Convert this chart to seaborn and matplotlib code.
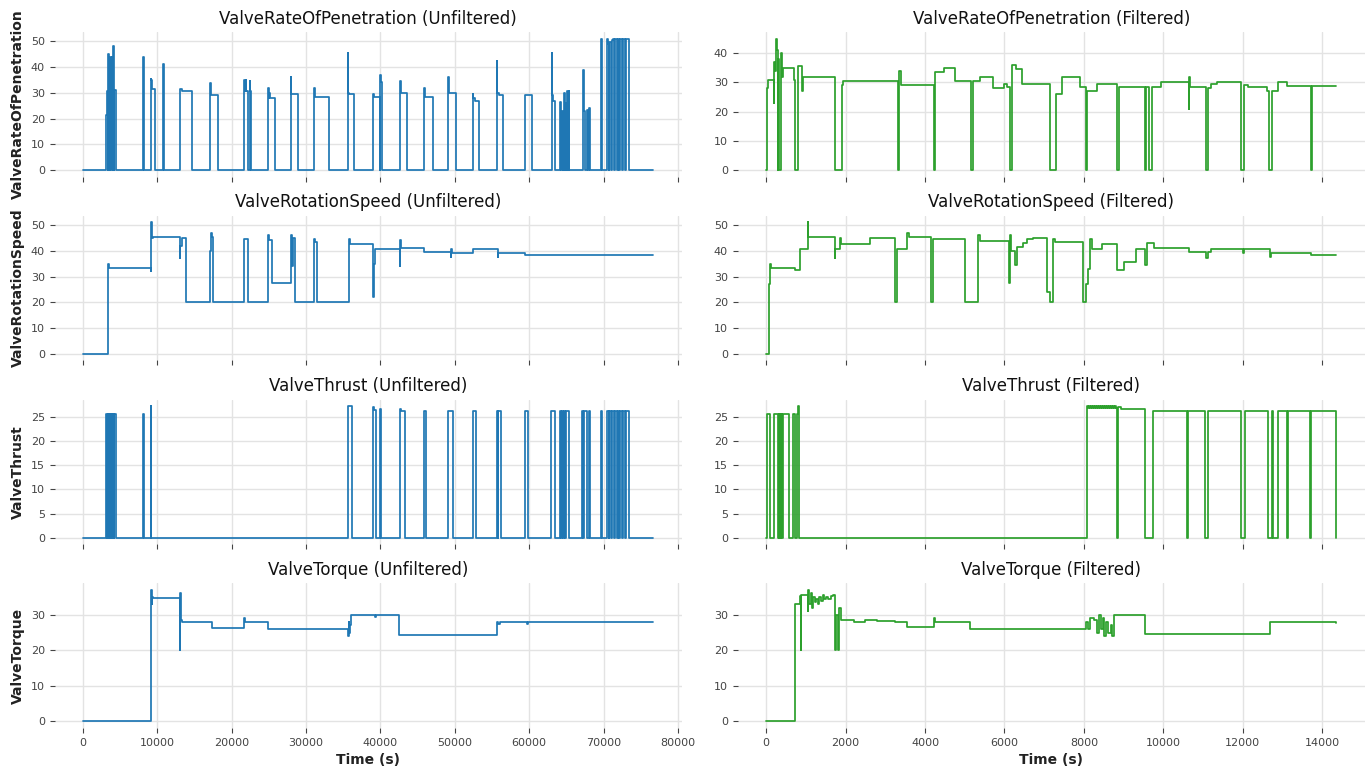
import numpy as np
import pandas as pd
import matplotlib
matplotlib.use("Agg")
import matplotlib.pyplot as plt
from matplotlib.ticker import MultipleLocator
import seaborn as sns

# ---------------- data (time in s, value) ----------------
# Unfiltered (left column)
rop_unf_t = [0, 3070, 3190, 3300, 3370, 3430, 3490, 3550, 3610, 3660, 3720, 3790, 3850, 3910, 3970, 4020, 4100, 4160, 4220, 4400,
             8080, 8140, 8200, 8260, 9090, 9150, 9200, 9260, 9740, 10740, 10860,
             13100, 13250, 14630, 17110, 17200, 18170,
             21590, 21650, 21750, 21850, 21950, 22180, 22420, 22480, 22600,
             24840, 24950, 25070, 25200, 25780, 27910, 28000, 28910, 31090, 31200, 33040,
             35580, 35640, 35700, 35800, 36460, 39060, 39150, 39880, 40000, 40060, 40150,
             42600, 42700, 43600, 45900, 46000, 47080, 49090, 49200, 50150,
             52390, 52500, 52750, 53220, 55640, 55720, 55900, 56520, 59470, 60420,
             63010, 63080, 63250, 63480, 64190, 64290, 64400, 64500, 64560, 64640, 64720, 64820, 64900, 64960, 65070, 65200, 65300, 65370,
             67260, 67320, 67400, 67500, 67730, 67850, 68090, 68200,
             69620, 69850, 70430, 70600, 70700, 70760, 71050, 71110, 71300, 71450, 71510, 71850, 71910, 72150,
             72200, 72550, 72610, 72850, 73000, 73400, 76700]
rop_unf_v = [0, 21.5, 30.5, 0, 45, 0, 35, 40, 0, 44, 31, 0, 44, 30, 0, 48, 31, 0, 31, 0,
             44, 0, 25, 0, 35.3, 27, 35, 31.5, 0, 41, 0,
             31.3, 30.5, 0, 33.8, 29.2, 0,
             33, 35, 30.5, 35, 30.5, 0, 34.5, 30.5, 0,
             31.8, 28, 30, 28, 0, 36, 29.5, 0, 32, 28.5, 0,
             45.5, 44, 30, 29.5, 0, 29.5, 28.3, 0, 37, 34, 0,
             34.5, 30, 0, 32, 28.3, 0, 36, 30, 0,
             29.7, 28, 27, 0, 42.5, 30, 29, 0, 29, 0,
             45.5, 29, 27, 0, 26.5, 0, 23, 0, 22, 0, 30, 0, 26, 0, 30.5, 0, 30.5, 0,
             39, 34, 23, 0, 23.5, 0, 24, 0,
             51, 0, 51, 49, 0, 49.5, 0, 50.5, 51, 0, 51, 0, 51, 0,
             51, 0, 51, 0, 51, 0, 0]

rs_unf_t = [0, 3420, 3500, 9090, 9150, 9250, 9440, 12980, 13100, 13300, 13860, 17110, 17200, 17400, 17520,
            21650, 22180, 24900, 25000, 25370, 28020, 28150, 28250, 28500, 31090, 31200, 31500,
            35810, 35900, 39060, 39150, 39250, 42600, 42650, 42750, 45900, 49440, 49500, 49600,
            52390, 55750, 55850, 59470, 76700]
rs_unf_v = [0, 35, 33.5, 32, 51, 45, 45.5, 37, 42, 45, 20, 40, 47, 45.5, 20,
            44.5, 20, 46, 44, 27.5, 46, 34, 45, 20, 44.5, 43.5, 20,
            44.5, 42.5, 22, 35, 40.5, 34, 44, 41, 39.5, 37.5, 40.5, 39,
            40.5, 37.5, 39, 38.5, 38.5]

th_unf_t = [0, 3130, 3250, 3300, 3420, 3480, 3600, 3660, 3780, 3840, 3950, 4000, 4150, 4200, 4480,
            8080, 8260, 9090, 9200, 35690, 36170, 39000, 39100, 39410, 39880, 40120,
            42600, 42700, 43240, 45900, 46140, 49090, 49730, 52390, 52800,
            55630, 55800, 55870, 56220, 59470, 59880, 63000, 63480,
            64190, 64350, 64420, 64600, 64680, 64850, 64920, 65310,
            67140, 67300, 67380, 67730, 68000, 68150,
            69620, 69850, 70430, 70700, 70760, 71050, 71110, 71450, 71510, 71850, 71910, 72150,
            72200, 72550, 72610, 72850, 73000, 73400, 76700]
th_unf_v = [0, 25.6, 0, 25.6, 0, 25.6, 0, 25.6, 0, 25.6, 0, 25.6, 0, 25.6, 0,
            25.6, 0, 27.2, 0, 27.2, 0, 27, 26.5, 0, 26.7, 0,
            26.7, 26.2, 0, 26.2, 0, 26.2, 0, 26.2, 0,
            26.2, 0, 26.2, 0, 26.2, 0, 26.2, 0,
            26.2, 0, 26.2, 0, 26.2, 0, 26.2, 0,
            26.2, 0, 26.2, 0, 26.2, 0,
            26.2, 0, 26.2, 0, 26.2, 0, 26.2, 0, 26.2, 0, 26.2, 0,
            26.2, 0, 26.2, 0, 26.2, 0, 0]

tq_unf_t = [0, 9090, 9120, 9180, 9230, 9300, 9400, 12980, 13050, 13150, 13300, 17290, 21650, 21750, 24900,
            35690, 35750, 35800, 35900, 36000, 39300, 39450, 42540, 55630, 55800, 56100, 59700, 59850, 76700]
tq_unf_v = [0, 20, 31, 37, 33, 35, 34.8, 20, 36, 28.5, 28, 26.3, 29, 28, 26,
            24, 28, 25, 27, 30, 29.5, 30, 24.4, 28, 27.5, 28, 27.5, 28, 28]

# Filtered (right column)
rop_fil_t = [0, 22, 44, 188, 199, 220, 243, 265, 287, 300, 331, 375, 386, 430, 695, 717, 794, 904, 927,
             1721, 1908, 1930, 3320, 3342, 3386, 4224, 4247, 4467, 4754, 5162, 5217, 5383, 5703, 5978,
             6067, 6144, 6199, 6287, 6453, 7147, 7302, 7445, 7909, 8052, 8085, 8328, 8846, 8879,
             9541, 9563, 9629, 9706, 9949, 10644, 10660, 10677, 11085, 11118, 11195, 11361, 11968,
             12034, 12144, 12607, 12662, 12740, 12883, 13104, 13710, 13743, 14361]
rop_fil_v = [0, 28, 30.8, 23, 37, 34, 45, 41, 0, 38, 0, 40, 32, 35, 31, 0, 35.5, 27, 31.7,
             0, 29, 30.4, 0, 33.8, 29.2, 0, 33.5, 35, 30.5, 0, 30.5, 31.8, 28, 29.5,
             28.3, 0, 36, 34.5, 29.5, 0, 26, 31.8, 28.5, 0, 27, 29.5, 0, 28.3,
             0, 28.3, 0, 28.3, 30.2, 21, 32, 28.3, 0, 28, 29.5, 30.2, 0,
             29, 28.3, 27, 0, 27.2, 30, 28.8, 0, 28.8, 28.8]

rs_fil_t = [0, 66, 88, 110, 717, 849, 1048, 1059, 1721, 1743, 1864, 1886, 2614, 3254, 3298, 3552, 3585,
            4158, 4213, 4997, 5327, 5383, 6122, 6144, 6166, 6265, 6320, 6475, 6563, 6728, 7070, 7147,
            7214, 7280, 7975, 8063, 8107, 8162, 8217, 8460, 8846, 9011, 9320, 9541, 9585, 9762,
            10644, 11085, 11118, 11195, 12001, 12023, 12685, 12707, 13710, 14361]
rs_fil_v = [0, 27, 35, 33.5, 32.5, 40.5, 51, 45.5, 37, 40.5, 45, 42.5, 45, 20, 40.5, 47, 45.5,
            20, 44.5, 20, 46, 43.8, 27.5, 46, 40, 34.5, 41.5, 43, 44.5, 45, 24, 20,
            44.5, 43.5, 20, 27, 33, 44.5, 40.5, 42.5, 32.5, 35.5, 40.5, 34.5, 43, 41,
            39.5, 37, 39.5, 40.5, 39, 40.5, 37.5, 39, 38.5, 38.5]

th_fil_t = [0, 22, 100, 188, 300, 320, 335, 350, 365, 385, 400, 420, 574, 684, 728, 783, 805, 838,
            8085, 8110, 8135, 8160, 8185, 8210, 8235, 8260, 8285, 8310, 8335, 8360, 8385, 8410, 8435, 8460,
            8485, 8510, 8535, 8560, 8585, 8610, 8635, 8660, 8685, 8710, 8735, 8760, 8785, 8810, 8846, 8870, 8930,
            9541, 9730, 10600, 10630, 11060, 11130, 11950, 12050, 12650, 12740, 12760, 12880, 13110, 13140,
            13700, 13730, 14361]
th_fil_v = [0, 25.6, 0, 25.6, 0, 25.6, 0, 25.6, 0, 25.6, 0, 25.6, 0, 25.6, 0, 25.6, 27.2, 0,
            27.2, 26.9, 27.2, 26.9, 27.2, 26.9, 27.2, 26.9, 27.2, 26.9, 27.2, 26.9, 27.2, 26.9, 27.2, 26.9,
            27.2, 26.9, 27.2, 26.9, 27.2, 26.9, 27.2, 26.9, 27.2, 26.9, 27.2, 26.9, 27.2, 26.9, 0, 27.0, 26.6,
            0, 26.2, 0, 26.2, 0, 26.2, 0, 26.2, 0, 26.2, 0, 26.2, 0, 26.2,
            0, 26.2, 0]

tq_fil_t = [0, 717, 849, 871, 882, 1048, 1060, 1090, 1120, 1150, 1180, 1220, 1260, 1300, 1340, 1380, 1420,
            1460, 1500, 1560, 1620, 1680, 1732, 1765, 1800, 1842, 1875, 2200, 2500, 2800, 3250, 3552,
            4224, 4247, 5140, 8052, 8100, 8150, 8250, 8330, 8380, 8420, 8470, 8520, 8560, 8620, 8680,
            8720, 8769, 9541, 12685, 14361]
tq_fil_v = [0, 33, 35.3, 20, 35.5, 31, 37, 33, 36, 32, 35, 33.5, 34.5, 33, 35, 34, 35.5,
            34.5, 35, 34.5, 35.3, 35.5, 20, 30, 20, 32, 28.5, 28, 28.5, 28.2, 28, 26.5,
            29, 28, 26, 28, 26, 29, 28.5, 25, 30, 26, 29, 24, 28, 25, 27,
            24, 30, 24.5, 28, 27.8]

variables = ["ValveRateOfPenetration", "ValveRotationSpeed", "ValveThrust", "ValveTorque"]
unfiltered = [(rop_unf_t, rop_unf_v), (rs_unf_t, rs_unf_v), (th_unf_t, th_unf_v), (tq_unf_t, tq_unf_v)]
filtered = [(rop_fil_t, rop_fil_v), (rs_fil_t, rs_fil_v), (th_fil_t, th_fil_v), (tq_fil_t, tq_fil_v)]

# ---------------- style ----------------
sns.set_theme(style="whitegrid", rc={
    "grid.color": "#e3e3e3",
    "grid.linewidth": 1.0,
    "xtick.bottom": True,
    "ytick.left": True,
    "xtick.color": "#444444",
    "ytick.color": "#444444",
    "xtick.major.size": 3.5,
    "ytick.major.size": 3.5,
    "xtick.major.width": 0.8,
    "ytick.major.width": 0.8,
    "xtick.labelsize": 8,
    "ytick.labelsize": 8,
})
plt.rcParams["font.family"] = ["DejaVu Sans"]

fig, axes = plt.subplots(4, 2, figsize=(13.67, 7.70), dpi=100, sharex="col")
fig.subplots_adjust(left=0.0399, right=0.9985, top=0.9584, bottom=0.0545, wspace=0.089, hspace=0.27)

blue = "#1f77b4"
green = "#2ca02c"

for i, name in enumerate(variables):
    for j, (series, color, tag) in enumerate([(unfiltered[i], blue, "Unfiltered"), (filtered[i], green, "Filtered")]):
        ax = axes[i, j]
        t, v = series
        df = pd.DataFrame({"t": t, "v": v})
        sns.lineplot(data=df, x="t", y="v", ax=ax, color=color, estimator=None, sort=False,
                     drawstyle="steps-post", linewidth=1.25)
        ax.set_title(f"{name} ({tag})", fontsize=12, color="#111111")
        ax.set_xlabel("")
        ax.set_ylabel(name if j == 0 else "", fontsize=10, fontweight="bold", color="#222222")
        if name == "ValveThrust":
            ax.yaxis.set_major_locator(MultipleLocator(5))
        for s in ax.spines.values():
            s.set_visible(False)

for j in range(2):
    axes[3, j].set_xlabel("Time (s)", fontsize=10, fontweight="bold", color="#222222")

fig.savefig("out.png", dpi=100)
